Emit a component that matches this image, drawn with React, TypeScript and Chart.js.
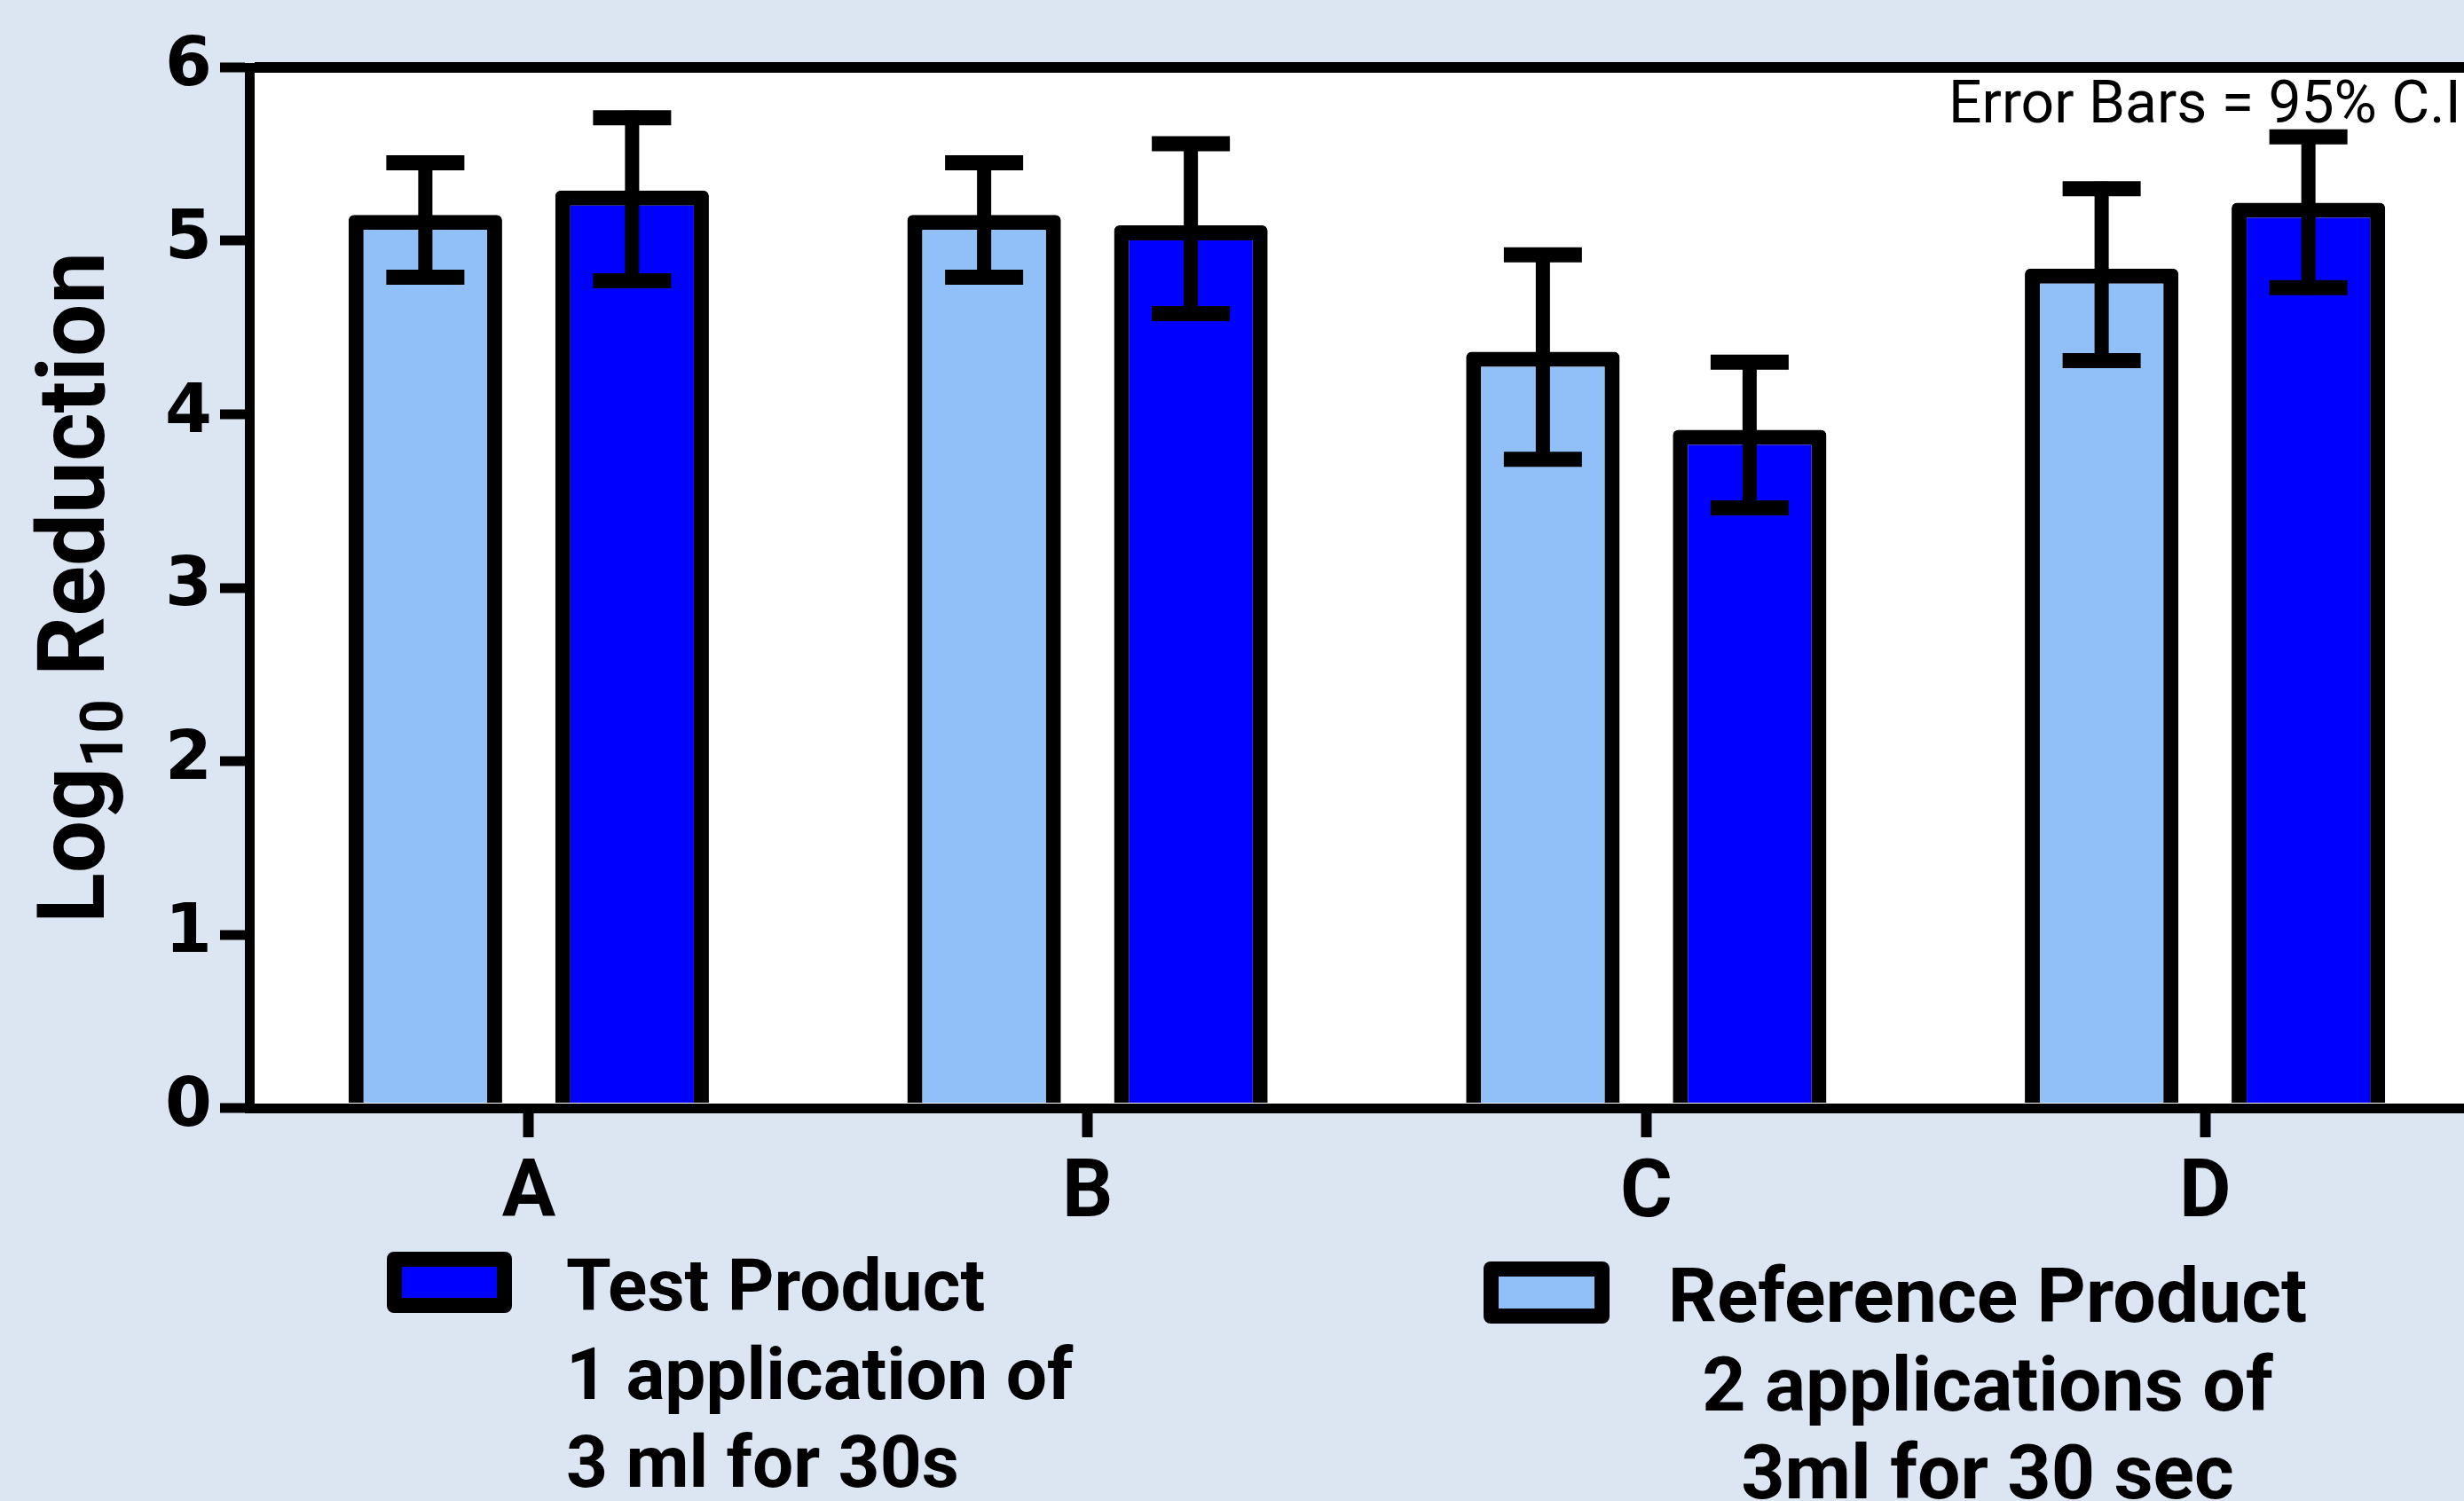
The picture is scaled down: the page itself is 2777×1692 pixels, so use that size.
import React, { useEffect, useRef } from 'react';
import { Chart, registerables } from 'chart.js';

Chart.register(...registerables);

// ---- data ----
const categories = ['A', 'B', 'C', 'D'];
const seriesNames = ['Reference Product', 'Test Product'];
const referenceMeans = [5.15, 5.15, 4.36, 4.84];
const testMeans = [5.29, 5.09, 3.91, 5.22];
const referenceLow = [4.79, 4.79, 3.74, 4.31];
const referenceHigh = [5.45, 5.45, 4.92, 5.3];
const testLow = [4.77, 4.58, 3.46, 4.73];
const testHigh = [5.71, 5.56, 4.3, 5.6];
const yMin = 0;
const yMax = 6;
const yStep = 1;
const yTitleMain = 'Log';
const yTitleSub = '10';
const yTitleRest = ' Reduction';
const noteText = 'Error Bars = 95% C.I.';
const testLegendLines = ['Test Product', '1 application of', '3 ml for 30s'];
const referenceLegendLines = ['Reference Product', '2 applications of', '3ml for 30 sec'];

// ---- styles ----
const PAGE_BG = 'rgb(220,230,242)';
const LIGHT_BLUE = 'rgb(145,191,248)';
const DARK_BLUE = 'rgb(0,0,255)';
const CANVAS_W = 2800;
const CANVAS_H = 1692;
const SANS = 'Roboto';

function roundedBox(ctx: CanvasRenderingContext2D, x: number, y: number, w: number, h: number, fill: string) {
  ctx.fillStyle = '#000';
  ctx.beginPath();
  (ctx as any).roundRect(x, y, w, h, 8);
  ctx.fill();
  ctx.fillStyle = fill;
  ctx.fillRect(x + 17, y + 17, w - 34, h - 34);
}

const customPlugin = {
  id: 'customDecor',
  beforeDraw(chart: any) {
    const { ctx, chartArea: a } = chart;
    ctx.save();
    ctx.fillStyle = '#fff';
    ctx.fillRect(a.left, a.top, a.right - a.left, a.bottom - a.top);
    ctx.restore();
  },
  afterDatasetsDraw(chart: any) {
    const { ctx } = chart;
    const y = chart.scales.y;
    const lows = [referenceLow, testLow];
    const highs = [referenceHigh, testHigh];
    ctx.save();
    ctx.strokeStyle = '#000';
    ctx.lineCap = 'butt';
    for (let d = 0; d < 2; d++) {
      const meta = chart.getDatasetMeta(d);
      meta.data.forEach((bar: any, j: number) => {
        const x = bar.x;
        const yl = y.getPixelForValue(lows[d][j]);
        const yh = y.getPixelForValue(highs[d][j]);
        ctx.lineWidth = 16;
        ctx.beginPath();
        ctx.moveTo(x, yl + 8);
        ctx.lineTo(x, yh - 8);
        ctx.stroke();
        ctx.lineWidth = 17;
        ctx.beginPath();
        ctx.moveTo(x - 44, yh);
        ctx.lineTo(x + 44, yh);
        ctx.moveTo(x - 44, yl);
        ctx.lineTo(x + 44, yl);
        ctx.stroke();
      });
    }
    ctx.restore();
  },
  afterDraw(chart: any) {
    const { ctx, chartArea: a } = chart;
    ctx.save();
    ctx.fillStyle = '#000';
    // y-axis title with subscript
    ctx.translate(117, (a.top + a.bottom) / 2);
    ctx.rotate(-Math.PI / 2);
    ctx.textBaseline = 'alphabetic';
    ctx.textAlign = 'left';
    const mainFont = `bold 105px ${SANS}`;
    const subFont = `bold 67px ${SANS}`;
    ctx.font = mainFont;
    const w1 = ctx.measureText(yTitleMain).width;
    const w3 = ctx.measureText(yTitleRest).width;
    ctx.font = subFont;
    const w2 = ctx.measureText(yTitleSub).width;
    let x = -(w1 + w2 + w3) / 2;
    ctx.font = mainFont;
    ctx.fillText(yTitleMain, x, 0);
    x += w1;
    ctx.font = subFont;
    ctx.fillText(yTitleSub, x, 21);
    x += w2;
    ctx.font = mainFont;
    ctx.fillText(yTitleRest, x, 0);
    ctx.restore();

    // note
    ctx.save();
    ctx.fillStyle = '#000';
    ctx.font = `66px ${SANS}`;
    ctx.textAlign = 'left';
    ctx.textBaseline = 'alphabetic';
    ctx.fillText(noteText, 2196, 138);
    ctx.restore();

    // legend
    const ds = chart.data.datasets;
    ctx.save();
    roundedBox(ctx, 436, 1411, 141, 69, ds[1].backgroundColor);
    roundedBox(ctx, 1672, 1422, 142, 70, ds[0].backgroundColor);
    ctx.fillStyle = '#000';
    ctx.font = `bold 82px ${SANS}`;
    ctx.textBaseline = 'alphabetic';
    ctx.textAlign = 'left';
    testLegendLines.forEach((t, i) => ctx.fillText(t, 638, 1477 + i * 99.5));
    ctx.font = `bold 86px ${SANS}`;
    ctx.textAlign = 'center';
    referenceLegendLines.forEach((t, i) => ctx.fillText(t, 2240, 1490 + i * 99.5));
    ctx.restore();
  },
};

export default function App() {
  const canvasRef = useRef<HTMLCanvasElement>(null);

  useEffect(() => {
    let chart: Chart | null = null;
    let cancelled = false;
    const make = () => {
      if (cancelled || !canvasRef.current) return;
      chart = new Chart(canvasRef.current, {
        type: 'bar',
        data: {
          labels: categories,
          datasets: [
            {
              label: seriesNames[0],
              data: referenceMeans,
              backgroundColor: LIGHT_BLUE,
              borderColor: '#000',
              borderWidth: 17,
              borderSkipped: 'start',
              borderRadius: { topLeft: 6, topRight: 6, bottomLeft: 0, bottomRight: 0 },
            },
            {
              label: seriesNames[1],
              data: testMeans,
              backgroundColor: DARK_BLUE,
              borderColor: '#000',
              borderWidth: 17,
              borderSkipped: 'start',
              borderRadius: { topLeft: 6, topRight: 6, bottomLeft: 0, bottomRight: 0 },
            },
          ],
        },
        options: {
          responsive: false,
          animation: false,
          devicePixelRatio: 1,
          layout: { padding: { top: 76, left: 0, right: 0, bottom: 0 } },
          datasets: { bar: { categoryPercentage: 0.74, barPercentage: 0.743 } },
          plugins: { legend: { display: false }, title: { display: false }, tooltip: { enabled: false } },
          scales: {
            x: {
              type: 'category',
              offset: true,
              grid: {
                offset: false,
                drawOnChartArea: false,
                drawTicks: true,
                tickLength: 33,
                tickWidth: 12,
                tickColor: '#000',
              },
              border: { display: true, color: '#000', width: 11, z: 1 },
              ticks: {
                color: '#000',
                font: { family: SANS, weight: 'bold', size: 90 },
                padding: 12,
                maxRotation: 0,
                autoSkip: false,
              },
              afterFit: (s: any) => {
                s.height = 443;
              },
            },
            y: {
              min: yMin,
              max: yMax,
              grid: {
                drawOnChartArea: true,
                drawTicks: true,
                tickLength: 33,
                tickWidth: 11,
                tickColor: '#000',
                lineWidth: 12,
                color: (c: any) => (c.tick && c.tick.value === yMax ? '#000' : 'rgba(0,0,0,0)'),
              },
              border: { display: true, color: '#000', width: 11, z: 1 },
              ticks: {
                stepSize: yStep,
                color: '#000',
                font: { family: 'DejaVu Sans', weight: 'bold', size: 76 },
                padding: 9,
              },
              afterFit: (s: any) => {
                s.width = 281;
              },
            },
          },
        },
        plugins: [customPlugin],
      } as any);
    };
    const fonts = [`bold 90px ${SANS}`, `66px ${SANS}`, 'bold 76px "DejaVu Sans"'];
    Promise.all(fonts.map((f) => document.fonts.load(f)))
      .catch(() => undefined)
      .then(make);
    return () => {
      cancelled = true;
      if (chart) chart.destroy();
    };
  }, []);

  return (
    <div
      style={{
        position: 'fixed',
        left: 0,
        top: 0,
        width: 2777,
        height: 1692,
        overflow: 'hidden',
        background: PAGE_BG,
      }}
    >
      <canvas
        ref={canvasRef}
        width={CANVAS_W}
        height={CANVAS_H}
        style={{ display: 'block', width: CANVAS_W, height: CANVAS_H }}
      />
    </div>
  );
}
